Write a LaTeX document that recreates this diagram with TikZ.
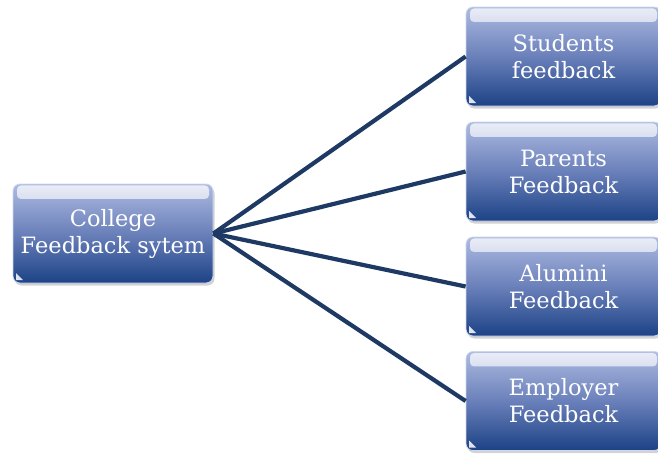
\documentclass[tikz,border=0pt]{standalone}
\usepackage{fontspec}
\setmainfont{DejaVu Serif}
\usetikzlibrary{shadows,calc,fadings}
\definecolor{boxtop}{HTML}{AEBBE1}
\definecolor{boxmid}{HTML}{6A80BA}
\definecolor{boxbot}{HTML}{1C4286}
\definecolor{linecol}{HTML}{1E3A64}
\tikzset{
  fbbox/.style={rounded corners=7pt, top color=boxtop, bottom color=boxbot, middle color=boxmid,
    draw=boxtop!60!white, line width=0.8pt,
    text=white, align=center, font=\fontsize{22.5}{27}\selectfont,
    minimum height=99pt, inner sep=0pt,
    drop shadow={opacity=0.35, shadow xshift=1.5pt, shadow yshift=-2.5pt},
    path picture={
      \fill[white,opacity=0.75,path fading=south,rounded corners=4pt]
        ([xshift=4pt,yshift=-1.5pt]path picture bounding box.north west) rectangle
        ([xshift=-4pt,yshift=-15pt]path picture bounding box.north east);
      \fill[white,opacity=0.85,sharp corners]
        ([xshift=3pt,yshift=3pt]path picture bounding box.south west) --
        ([xshift=10pt,yshift=3pt]path picture bounding box.south west) --
        ([xshift=3pt,yshift=10pt]path picture bounding box.south west) -- cycle;
    }},
  conn/.style={draw=linecol, line width=4.2pt}
}
\begin{document}
\begin{tikzpicture}[x=1pt,y=-1pt]
\useasboundingbox (0,0) rectangle (658,455);
\node[fbbox, minimum width=200pt] (L) at (113,233.5) {College\\Feedback sytem};
\node[fbbox, minimum width=195pt] (R1) at (563.5,56.5) {Students\\feedback};
\node[fbbox, minimum width=195pt] (R2) at (563.5,171.5) {Parents\\Feedback};
\node[fbbox, minimum width=195pt] (R3) at (563.5,286.5) {Alumini\\Feedback};
\node[fbbox, minimum width=195pt] (R4) at (563.5,401) {Employer\\Feedback};
\draw[conn] (L.east) -- (R1.west);
\draw[conn] (L.east) -- (R2.west);
\draw[conn] (L.east) -- (R3.west);
\draw[conn] (L.east) -- (R4.west);
\end{tikzpicture}
\end{document}
